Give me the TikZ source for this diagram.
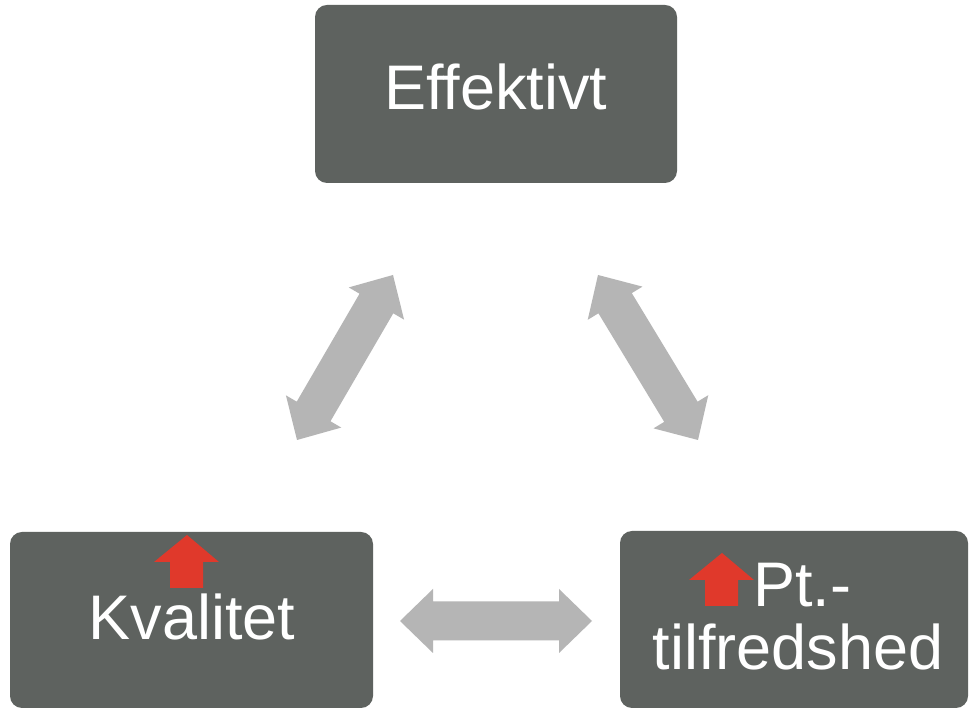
\documentclass[tikz,border=0pt]{standalone}
\usepackage{fontspec}
\setmainfont{Liberation Sans}
\usetikzlibrary{calc}

\definecolor{boxgray}{RGB}{94,98,95}
\definecolor{arrowgray}{RGB}{181,181,181}
\definecolor{upred}{RGB}{224,57,43}

\tikzset{
  panel/.style={fill=boxgray, draw=none, rounded corners=12pt, inner sep=0pt},
  label text/.style={text=white, font=\fontsize{63}{63}\selectfont, anchor=base, inner sep=0pt},
}

% wide two-headed block arrow between two named points
\newcommand\blockarrow[2]{%
  \fill[arrowgray] (#1)
    -- ($(#1)!33pt!(#2)!32pt!-90:(#2)$)
    -- ($(#1)!33pt!(#2)!19.5pt!-90:(#2)$)
    -- ($(#2)!33pt!(#1)!19.5pt!90:(#1)$)
    -- ($(#2)!33pt!(#1)!32pt!90:(#1)$)
    -- (#2)
    -- ($(#2)!33pt!(#1)!32pt!-90:(#1)$)
    -- ($(#2)!33pt!(#1)!19.5pt!-90:(#1)$)
    -- ($(#1)!33pt!(#2)!19.5pt!90:(#2)$)
    -- ($(#1)!33pt!(#2)!32pt!90:(#2)$)
    -- cycle;}

% small red "up" arrow, given its tip
\newcommand\uparrowmark[1]{%
  \fill[upred] (#1) -- ++(-33pt,-27pt) -- ++(16pt,0) -- ++(0,-26pt)
    -- ++(33pt,0) -- ++(0,26pt) -- ++(16pt,0) -- cycle;}

\begin{document}
\begin{tikzpicture}[x=1pt,y=1pt]
\useasboundingbox (0,0) rectangle (970,709);
\fill[white] (0,0) rectangle (970,709);

% the three boxes
\node[panel, minimum width=362pt, minimum height=178pt] (eff) at (496,615) {};
\node[panel, minimum width=363pt, minimum height=176pt] (kval) at (191.5,89) {};
\node[panel, minimum width=348pt, minimum height=177pt] (pt) at (794,89.5) {};

% box texts
\node[label text] (efft) at (496,599) {Effektivt};
\node[label text] (kvalt) at (192,69) {Kvalitet};
\node[label text] (ptt1) at (802,102) {Pt.-};
\node[label text] (ptt2) at (798,39) {tilfredshed};

% red arrows
\coordinate (kval-up) at (187,174);
\coordinate (pt-up) at (722,156);
\uparrowmark{kval-up}
\uparrowmark{pt-up}

% connector end points
\coordinate (kp-a) at (400,88);
\coordinate (kp-b) at (592,88);
\coordinate (ke-a) at (297,269);
\coordinate (ke-b) at (393,434);
\coordinate (pe-a) at (698,269);
\coordinate (pe-b) at (598,434);

\blockarrow{kp-a}{kp-b}
\blockarrow{ke-a}{ke-b}
\blockarrow{pe-a}{pe-b}
\end{tikzpicture}
\end{document}
